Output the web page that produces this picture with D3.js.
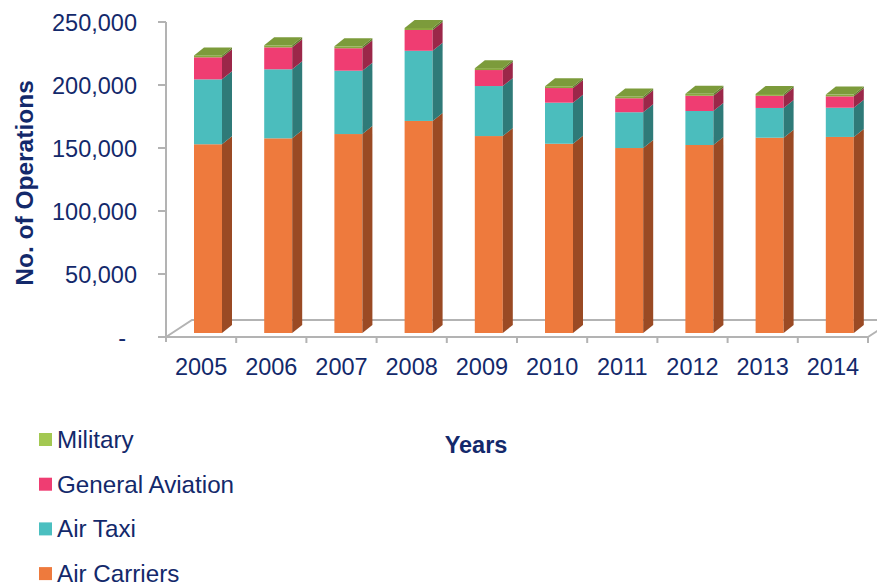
<!DOCTYPE html>
<html>
<head>
<meta charset="utf-8">
<script src="https://cdn.jsdelivr.net/npm/d3@7"></script>
<style>
  html, body { margin: 0; padding: 0; background: #ffffff; }
  svg { display: block; font-family: "Liberation Sans", Arial, sans-serif; }
</style>
</head>
<body>
<svg id="chart" width="877" height="588"></svg>
<script>
// Annual operations by user category
const years = ["2005", "2006", "2007", "2008", "2009", "2010", "2011", "2012", "2013", "2014"];
const airCarriers = [149800, 154500, 157900, 168300, 156300, 150200, 146800, 149200, 155000, 155600];
const airTaxi = [51500, 54800, 50300, 55700, 39700, 32600, 28400, 27000, 23600, 23200];
const generalAviation = [17500, 17400, 17800, 16500, 12700, 11600, 11100, 12100, 9700, 9000];
const military = [1500, 1600, 1500, 1600, 1500, 1400, 1400, 1500, 1400, 1400];

const seriesNames = ["Air Carriers", "Air Taxi", "General Aviation", "Military"];
const legendOrder = ["Military", "General Aviation", "Air Taxi", "Air Carriers"];
const yTickValues = [0, 50000, 100000, 150000, 200000, 250000];
const yTickLabels = ["-", "50,000", "100,000", "150,000", "200,000", "250,000"];

const frontColor = { "Air Carriers": "#ee7a3d", "Air Taxi": "#4bbdbd", "General Aviation": "#ef3d72", "Military": "#88a83e" };
const sideColor = { "Air Carriers": "#9a4a24", "Air Taxi": "#2f7a78", "General Aviation": "#9b2749", "Military": "#5f7a2a" };
const legendColor = { "Air Carriers": "#ee7a3d", "Air Taxi": "#4bbfc0", "General Aviation": "#ef3d72", "Military": "#a3c852" };
const topColor = "#7c9b3b";
const textColor = "#13296b";
const axisColor = "#b3b3b3";

const rows = years.map((yr, i) => ({
  year: yr,
  "Air Carriers": airCarriers[i],
  "Air Taxi": airTaxi[i],
  "General Aviation": generalAviation[i],
  "Military": military[i]
}));
const stacked = d3.stack().keys(seriesNames)(rows);

const svg = d3.select("#chart");

const x = d3.scaleBand().domain(years).range([166, 868]);
const y = d3.scaleLinear().domain([0, 250000]).range([337, 22]);

// 3D projection: floor depth and column depth
const floorDx = 26, floorDy = -17;
const barDx = 10, barDy = -8;
const barLift = 4;          // columns stand a little back on the floor
const barInset = 28, barW = 28;

// Floor outline
const g = svg.append("g");
const xL = x.range()[0], xR = x.range()[1], y0 = y(0);
g.append("path")
  .attr("d", `M${xL},${y0} L${xL + floorDx},${y0 + floorDy} L${xR + floorDx},${y0 + floorDy}`)
  .attr("fill", "none").attr("stroke", axisColor).attr("stroke-width", 2);
g.append("path")
  .attr("d", `M${xR},${y0} L${xR + floorDx},${y0 + floorDy}`)
  .attr("fill", "none").attr("stroke", axisColor).attr("stroke-width", 2);

// Columns
const bars = svg.append("g");
stacked.forEach((layer, li) => {
  const key = layer.key;
  layer.forEach((d, i) => {
    const bx = x(years[i]) + barInset;
    const yt = y(d[1]) - barLift;
    const yb = y(d[0]) - barLift;
    bars.append("rect")
      .attr("x", bx).attr("y", yt).attr("width", barW).attr("height", Math.max(0, yb - yt))
      .attr("fill", frontColor[key]);
    bars.append("path")
      .attr("d", `M${bx + barW},${yt} L${bx + barW + barDx},${yt + barDy} L${bx + barW + barDx},${yb + barDy} L${bx + barW},${yb} Z`)
      .attr("fill", sideColor[key]);
    if (li === stacked.length - 1) {
      bars.append("path")
        .attr("d", `M${bx},${yt} L${bx + barDx},${yt + barDy} L${bx + barW + barDx},${yt + barDy} L${bx + barW},${yt} Z`)
        .attr("fill", topColor);
    }
  });
});

// Value axis
const ya = svg.append("g");
ya.append("line")
  .attr("x1", xL).attr("x2", xL).attr("y1", y(250000)).attr("y2", y0 + 5)
  .attr("stroke", axisColor).attr("stroke-width", 2);
yTickValues.forEach((v, i) => {
  ya.append("line")
    .attr("x1", xL - 8).attr("x2", xL).attr("y1", y(v)).attr("y2", y(v))
    .attr("stroke", axisColor).attr("stroke-width", 2);
  ya.append("text")
    .attr("x", v === 0 ? 126 : 137).attr("y", y(v) + 9)
    .attr("text-anchor", "end")
    .attr("font-size", "23.5px").attr("fill", textColor)
    .text(yTickLabels[i]);
});

// Category axis
const xa = svg.append("g");
xa.append("line")
  .attr("x1", xL).attr("x2", xR).attr("y1", y0).attr("y2", y0)
  .attr("stroke", axisColor).attr("stroke-width", 2);
years.forEach((yr) => {
  const bx = x(yr);
  xa.append("line")
    .attr("x1", bx + x.bandwidth()).attr("x2", bx + x.bandwidth()).attr("y1", y0).attr("y2", y0 + 6)
    .attr("stroke", axisColor).attr("stroke-width", 2);
  xa.append("text")
    .attr("x", bx + x.bandwidth() / 2).attr("y", 375)
    .attr("text-anchor", "middle")
    .attr("font-size", "23.5px").attr("fill", textColor)
    .text(yr);
});

// Axis titles
svg.append("text")
  .attr("transform", "translate(33,183) rotate(-90)")
  .attr("text-anchor", "middle")
  .attr("font-size", "24.5px").attr("font-weight", "bold").attr("fill", textColor)
  .text("No. of Operations");
svg.append("text")
  .attr("x", 476).attr("y", 453)
  .attr("text-anchor", "middle")
  .attr("font-size", "23.5px").attr("font-weight", "bold").attr("fill", textColor)
  .text("Years");

// Legend
const lg = svg.append("g");
legendOrder.forEach((name, i) => {
  const by = 448 + i * 44.7;
  lg.append("rect")
    .attr("x", 39).attr("y", by - 15).attr("width", 13).attr("height", 13)
    .attr("fill", legendColor[name]);
  lg.append("text")
    .attr("x", 57).attr("y", by)
    .attr("font-size", "24.2px").attr("fill", textColor)
    .text(name);
});
</script>
</body>
</html>
